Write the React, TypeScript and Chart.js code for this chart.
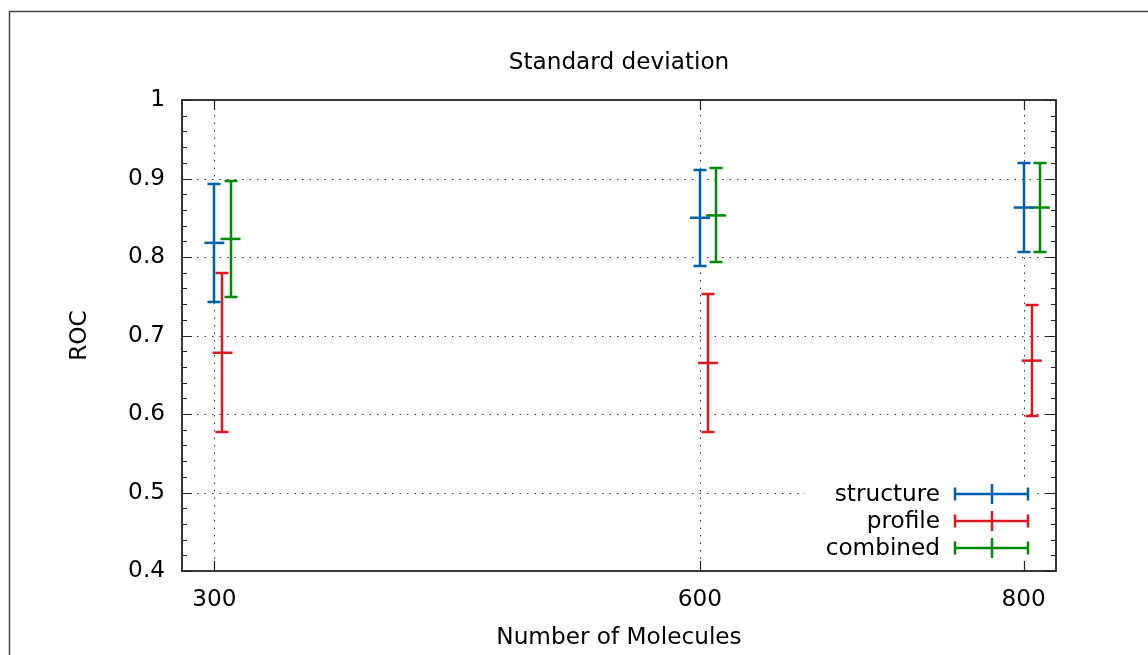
import { useEffect, useRef } from "react";
import { Chart, registerables } from "chart.js";

Chart.register(...registerables);

// ---- data ----
const seriesNames = ["structure", "profile", "combined"];
const seriesColors = ["#0060ad", "#dd181f", "#008a00"];
const structureX = [300, 600, 800];
const profileX = [305, 605, 805];
const combinedX = [310, 610, 810];
const structureMean = [0.818, 0.85, 0.863];
const structureErr = [0.075, 0.061, 0.057];
const profileMean = [0.678, 0.665, 0.668];
const profileErr = [0.101, 0.088, 0.071];
const combinedMean = [0.823, 0.853, 0.863];
const combinedErr = [0.074, 0.06, 0.057];
const xTicks = [300, 600, 800];
const yTicks = [0.4, 0.5, 0.6, 0.7, 0.8, 0.9, 1];
const yMinorStep = 0.02;
const xRange = [280, 820];
const yRange = [0.4, 1];
const chartTitle = "Standard deviation";

const FONT = "'DejaVu Sans', sans-serif";
const FS = 23.2;
const LW = 2.5;

function makePoints(xs: number[], means: number[], errs: number[]) {
  return xs.map((x, i) => ({ x, y: means[i], yMin: means[i] - errs[i], yMax: means[i] + errs[i] }));
}

const frameAndGrid = {
  id: "frameAndGrid",
  beforeDatasetsDraw(chart: any) {
    const { ctx, chartArea } = chart;
    const xs = chart.scales.x;
    const ys = chart.scales.y;
    const { left, right, top, bottom } = chartArea;
    ctx.save();
    // outer frame
    ctx.strokeStyle = "#444";
    ctx.lineWidth = 1.5;
    ctx.strokeRect(9.5, 11.5, 1400, 1000);
    // title
    ctx.fillStyle = "#000";
    ctx.font = `${FS}px ${FONT}`;
    ctx.textAlign = "center";
    ctx.textBaseline = "middle";
    ctx.fillText(chartTitle, (left + right) / 2, top - 37);
    // dotted grid
    ctx.strokeStyle = "#333";
    ctx.lineWidth = 1;
    ctx.setLineDash([1.5, 6]);
    yTicks.forEach((v) => {
      if (v <= yRange[0] || v >= yRange[1]) return;
      const py = Math.round(ys.getPixelForValue(v)) + 0.5;
      ctx.beginPath();
      ctx.moveTo(left, py);
      ctx.lineTo(right, py);
      ctx.stroke();
    });
    xTicks.forEach((v) => {
      const px = Math.round(xs.getPixelForValue(v)) + 0.5;
      ctx.beginPath();
      ctx.moveTo(px, top);
      ctx.lineTo(px, bottom);
      ctx.stroke();
    });
    ctx.setLineDash([]);
    // legend white box
    ctx.fillStyle = "#fff";
    ctx.fillRect(right - 251, bottom - 90, 232, 81);
    // ticks
    ctx.strokeStyle = "#222";
    ctx.lineWidth = 1.2;
    const n = Math.round((yRange[1] - yRange[0]) / yMinorStep);
    for (let i = 0; i <= n; i++) {
      const v = yRange[0] + i * yMinorStep;
      const py = Math.round(ys.getPixelForValue(v)) + 0.5;
      const len = i % 5 === 0 ? 10 : 5;
      ctx.beginPath();
      ctx.moveTo(left, py);
      ctx.lineTo(left + len, py);
      ctx.moveTo(right, py);
      ctx.lineTo(right - len, py);
      ctx.stroke();
    }
    xTicks.forEach((v) => {
      const px = Math.round(xs.getPixelForValue(v)) + 0.5;
      ctx.beginPath();
      ctx.moveTo(px, bottom);
      ctx.lineTo(px, bottom - 10);
      ctx.moveTo(px, top);
      ctx.lineTo(px, top + 10);
      ctx.stroke();
    });
    // border
    ctx.strokeStyle = "#222";
    ctx.lineWidth = 1.8;
    ctx.strokeRect(left, top, right - left, bottom - top);
    // error bars
    ctx.lineWidth = LW;
    chart.data.datasets.forEach((ds: any) => {
      ctx.strokeStyle = ds.borderColor;
      ds.data.forEach((d: any) => {
        const px = Math.round(xs.getPixelForValue(d.x));
        const pt = Math.round(ys.getPixelForValue(d.yMax));
        const pb = Math.round(ys.getPixelForValue(d.yMin));
        ctx.beginPath();
        ctx.moveTo(px, pt);
        ctx.lineTo(px, pb);
        ctx.moveTo(px - 6.5, pt);
        ctx.lineTo(px + 6.5, pt);
        ctx.moveTo(px - 6.5, pb);
        ctx.lineTo(px + 6.5, pb);
        ctx.stroke();
      });
    });
    ctx.restore();
  },
  afterDatasetsDraw(chart: any) {
    const { ctx, chartArea } = chart;
    const { right, bottom } = chartArea;
    ctx.save();
    ctx.font = `${FS}px ${FONT}`;
    ctx.textAlign = "right";
    ctx.textBaseline = "middle";
    const n = chart.data.datasets.length;
    chart.data.datasets.forEach((ds: any, i: number) => {
      const y = Math.round(bottom - 23 - (n - 1 - i) * 27.2);
      ctx.fillStyle = "#000";
      ctx.fillText(ds.label, right - 116, y + 1);
      const x1 = Math.round(right - 101);
      const x2 = Math.round(right - 28);
      const xm = Math.round((x1 + x2) / 2);
      ctx.strokeStyle = ds.borderColor;
      ctx.lineWidth = LW;
      ctx.beginPath();
      ctx.moveTo(x1, y);
      ctx.lineTo(x2, y);
      ctx.moveTo(x1, y - 6.5);
      ctx.lineTo(x1, y + 6.5);
      ctx.moveTo(x2, y - 6.5);
      ctx.lineTo(x2, y + 6.5);
      ctx.moveTo(xm, y - 10);
      ctx.lineTo(xm, y + 10);
      ctx.stroke();
    });
    ctx.restore();
  },
};

export default function App() {
  const ref = useRef<HTMLCanvasElement>(null);
  useEffect(() => {
    if (!ref.current) return;
    Chart.defaults.font.family = FONT;
    Chart.defaults.font.size = FS;
    Chart.defaults.color = "#000";
    const all = [
      makePoints(structureX, structureMean, structureErr),
      makePoints(profileX, profileMean, profileErr),
      makePoints(combinedX, combinedMean, combinedErr),
    ];
    const chart = new Chart(ref.current, {
      type: "scatter",
      data: {
        datasets: all.map((pts, i) => ({
          label: seriesNames[i],
          data: pts,
          borderColor: seriesColors[i],
          backgroundColor: seriesColors[i],
          pointStyle: "line",
          pointRadius: 10,
          pointHoverRadius: 10,
          pointBorderWidth: LW,
          showLine: false,
        })),
      },
      options: {
        animation: false,
        responsive: false,
        events: [],
        layout: { padding: { left: 0, right: 92, top: 100, bottom: 0 } },
        plugins: {
          legend: { display: false },
          tooltip: { enabled: false },
          title: { display: false },
        },
        scales: {
          x: {
            type: "linear",
            min: xRange[0],
            max: xRange[1],
            grid: { display: false, drawTicks: false },
            border: { display: false },
            afterBuildTicks: (s: any) => {
              s.ticks = xTicks.map((v) => ({ value: v }));
            },
            afterFit: (s: any) => {
              s.height = 84;
            },
            ticks: { padding: 15, callback: (v: any) => String(v), font: { size: FS } },
            title: {
              display: true,
              text: "Number of Molecules",
              font: { size: FS },
              padding: { top: 0, bottom: 3 },
            },
          },
          y: {
            type: "linear",
            min: yRange[0],
            max: yRange[1],
            grid: { display: false, drawTicks: false },
            border: { display: false },
            afterBuildTicks: (s: any) => {
              s.ticks = yTicks.map((v) => ({ value: v }));
            },
            afterFit: (s: any) => {
              s.width = 182;
            },
            ticks: { padding: 17, callback: (v: any) => String(v), font: { size: FS } },
            title: {
              display: true,
              text: "ROC",
              font: { size: FS },
              padding: { top: 66, bottom: 0 },
            },
          },
        },
      },
      plugins: [frameAndGrid],
    } as any);
    return () => chart.destroy();
  }, []);
  return (
    <div style={{ position: "absolute", left: 0, top: 0, width: 1148, height: 655 }}>
      <canvas ref={ref} width={1148} height={655} style={{ display: "block" }} />
    </div>
  );
}
